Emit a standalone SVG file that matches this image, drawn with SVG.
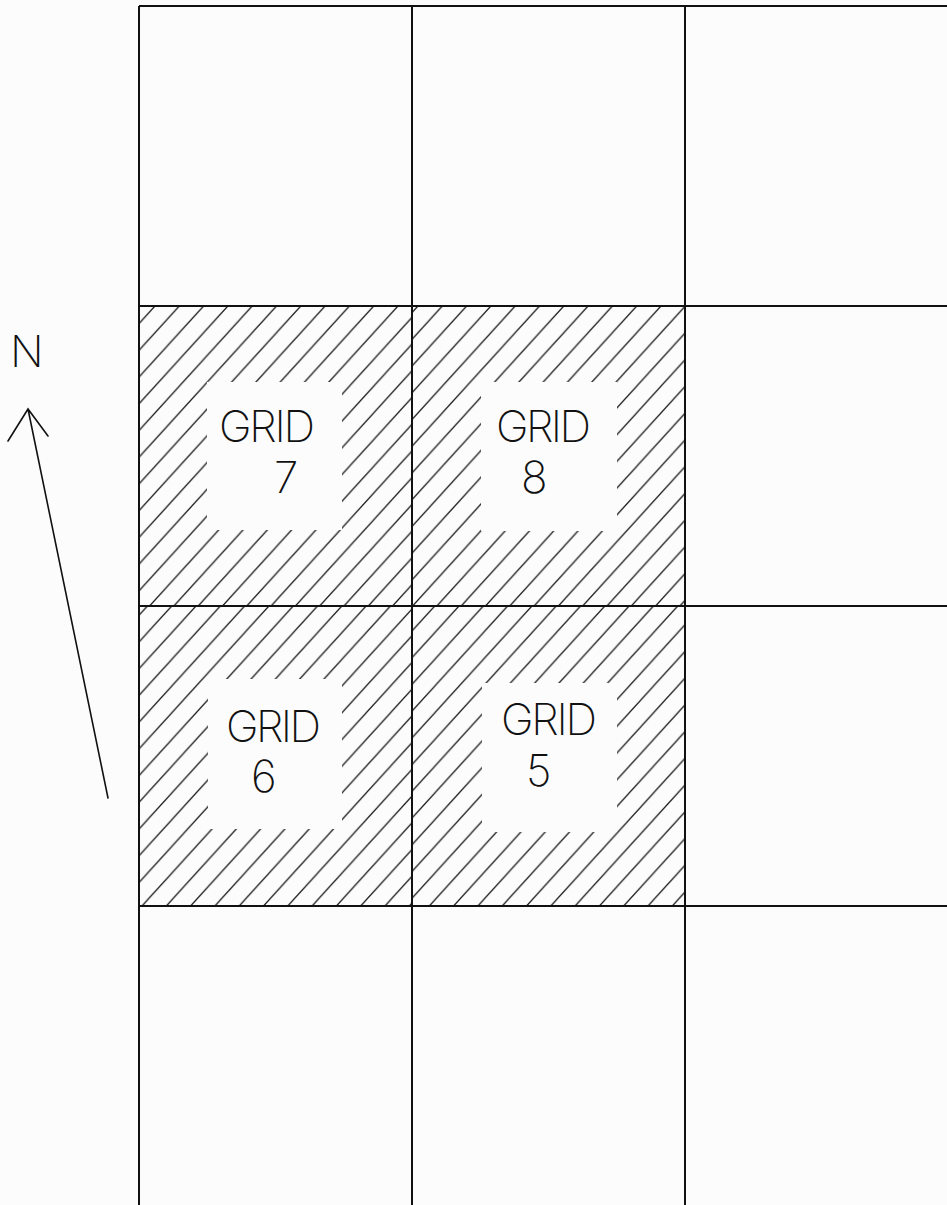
<svg xmlns="http://www.w3.org/2000/svg" width="947" height="1205" viewBox="0 0 947 1205">
  <style>
    .bg { fill: #fcfcfc; }
    .grid-line { stroke: #111; stroke-width: 2; fill: none; }
    .hatch-line { stroke: #1a1a1a; stroke-width: 1.3; fill: none; }
    .clear { fill: #fcfcfc; }
    .label { fill: #111; font-size: 44px; font-family: Inter, Roboto, sans-serif; font-weight: 200; }
    .arrow { stroke: #111; stroke-width: 1.6; fill: none; stroke-linecap: round; }
  </style>
  <defs>
    <!-- diagonal hatch, lines rising to the right, one phase per cell -->
    <pattern id="hatch7" patternUnits="userSpaceOnUse" x="155" y="306" width="24.3" height="26.73">
      <path class="hatch-line" d="M0,26.73 L24.3,0 M-12.15,13.365 L12.15,-13.365 M12.15,40.095 L36.45,13.365"/>
    </pattern>
    <pattern id="hatch8" patternUnits="userSpaceOnUse" x="418" y="306" width="24.3" height="26.73">
      <path class="hatch-line" d="M0,26.73 L24.3,0 M-12.15,13.365 L12.15,-13.365 M12.15,40.095 L36.45,13.365"/>
    </pattern>
    <pattern id="hatch6" patternUnits="userSpaceOnUse" x="171.7" y="606" width="24.3" height="26.73">
      <path class="hatch-line" d="M0,26.73 L24.3,0 M-12.15,13.365 L12.15,-13.365 M12.15,40.095 L36.45,13.365"/>
    </pattern>
    <pattern id="hatch5" patternUnits="userSpaceOnUse" x="434.7" y="606" width="24.3" height="26.73">
      <path class="hatch-line" d="M0,26.73 L24.3,0 M-12.15,13.365 L12.15,-13.365 M12.15,40.095 L36.45,13.365"/>
    </pattern>
  </defs>

  <rect class="bg" x="0" y="0" width="947" height="1205"/>

  <!-- hatched cells with cleared label areas -->
  <g id="grid-7">
    <rect x="139" y="306" width="273" height="300" fill="url(#hatch7)"/>
    <rect class="clear" x="207" y="382" width="135" height="148"/>
    <text class="label" x="219" y="442" textLength="96" lengthAdjust="spacing">GRID</text>
    <text class="label" x="274" y="493">7</text>
  </g>
  <g id="grid-8">
    <rect x="412" y="306" width="273" height="300" fill="url(#hatch8)"/>
    <rect class="clear" x="481" y="382" width="136" height="149"/>
    <text class="label" x="496" y="442" textLength="95" lengthAdjust="spacing">GRID</text>
    <text class="label" x="521" y="493">8</text>
  </g>
  <g id="grid-6">
    <rect x="139" y="606" width="273" height="300" fill="url(#hatch6)"/>
    <rect class="clear" x="208" y="679" width="134" height="150"/>
    <text class="label" x="226" y="742" textLength="95" lengthAdjust="spacing">GRID</text>
    <text class="label" x="251" y="792">6</text>
  </g>
  <g id="grid-5">
    <rect x="412" y="606" width="273" height="300" fill="url(#hatch5)"/>
    <rect class="clear" x="482" y="683" width="135" height="149"/>
    <text class="label" x="501" y="735" textLength="96" lengthAdjust="spacing">GRID</text>
    <text class="label" x="526" y="786">5</text>
  </g>

  <!-- sheet grid -->
  <g id="grid-lines">
    <path class="grid-line" d="M139,6 V1205 M412,6 V1205 M685,6 V1205"/>
    <path class="grid-line" d="M139,6 H947 M139,306 H947 M139,606 H947 M139,906 H947"/>
  </g>

  <!-- north arrow -->
  <g id="north-arrow">
    <text class="label" x="10" y="367">N</text>
    <path class="arrow" d="M108,798 L28,409 M8,441 L28,409 L48,436"/>
  </g>
</svg>
